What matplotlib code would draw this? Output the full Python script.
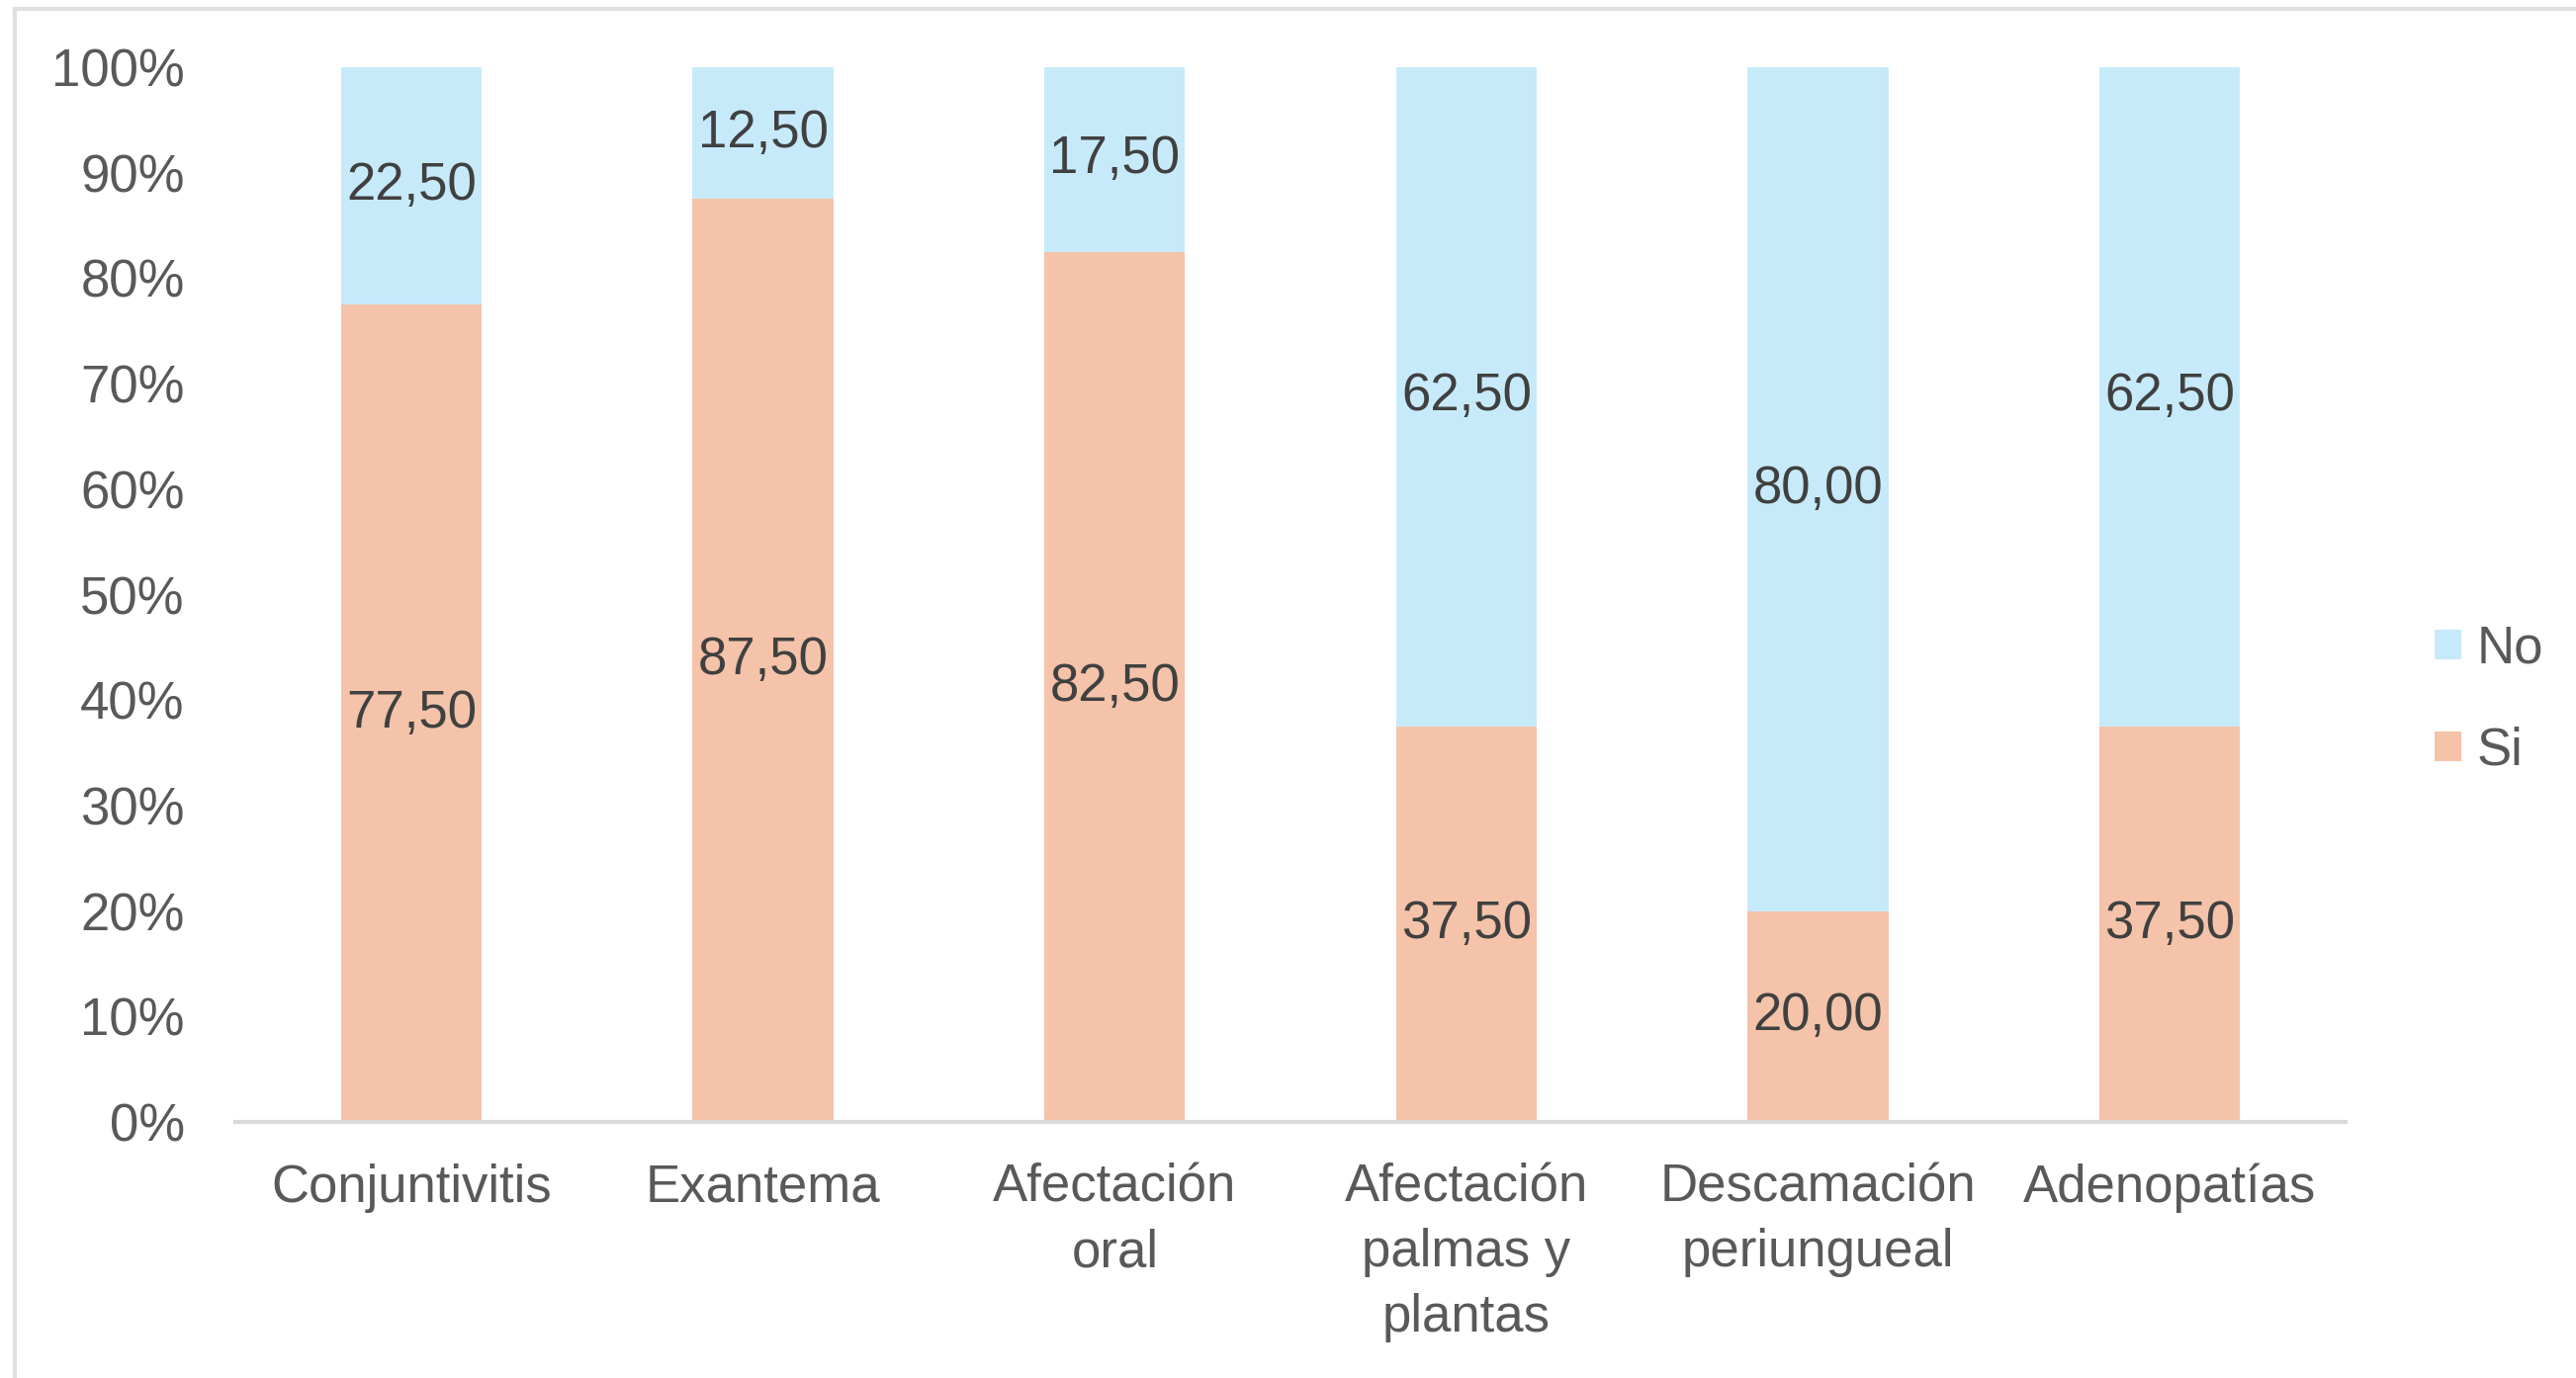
import numpy as np
import matplotlib.pyplot as plt
from matplotlib.lines import Line2D

# datos: porcentaje de Si / No por signo clínico
categorias = ['Conjuntivitis', 'Exantema', 'Afectación\noral',
              'Afectación\npalmas y\nplantas', 'Descamación\nperiungueal', 'Adenopatías']
si = [77.5, 87.5, 82.5, 37.5, 20.0, 37.5]
no = [22.5, 12.5, 17.5, 62.5, 80.0, 62.5]
yticks = [0, 10, 20, 30, 40, 50, 60, 70, 80, 90, 100]

color_si = '#F4C3A9'
color_no = '#C7EAFA'

plt.rcParams['font.family'] = ['Liberation Sans', 'DejaVu Sans']

fig = plt.figure(figsize=(26.05, 13.94), dpi=100)
ax = fig.add_axes([0.0914, 0.1858, 0.8192, 0.7654])

x = np.arange(len(categorias))
b_si = ax.bar(x, si, width=0.4, color=color_si, label='Si')
b_no = ax.bar(x, no, width=0.4, bottom=si, color=color_no, label='No')

# etiquetas de datos con coma decimal
for barras in (b_si, b_no):
    ax.bar_label(barras, labels=[f'{v:.2f}'.replace('.', ',') for v in barras.datavalues],
                 label_type='center', fontsize=38, color='#404040')

ax.set_xlim(-0.5, len(categorias) - 0.5)
ax.set_ylim(0, 100)
ax.set_yticks(yticks)
ax.set_yticklabels([f'{t}%' for t in yticks])
ax.set_xticks(x)
ax.set_xticklabels(categorias, linespacing=1.4)

ax.tick_params(axis='y', length=0, pad=37, labelsize=38, labelcolor='#595959')
ax.tick_params(axis='x', length=0, pad=30, labelsize=38, labelcolor='#595959')

for lado in ['top', 'right', 'left']:
    ax.spines[lado].set_visible(False)
ax.spines['bottom'].set_color('#D9D9D9')
ax.spines['bottom'].set_linewidth(3)

# leyenda a la derecha, No arriba
handles, labels = ax.get_legend_handles_labels()
leg = fig.legend(handles[::-1], labels[::-1], loc='center left',
                 bbox_to_anchor=(0.927, 0.492), frameon=False, fontsize=38,
                 handlelength=0.5, handleheight=0.5, handletextpad=0.3,
                 labelspacing=1.0, labelcolor='#595959')

# borde claro del área del gráfico
fig.add_artist(Line2D([15 / 2605, 15 / 2605], [0, 1 - 9 / 1394], color='#E0E0E0', lw=3,
                      transform=fig.transFigure))
fig.add_artist(Line2D([15 / 2605, 1], [1 - 9 / 1394, 1 - 9 / 1394], color='#E0E0E0', lw=3,
                      transform=fig.transFigure))

fig.savefig('out.png', dpi=100, facecolor='white')
